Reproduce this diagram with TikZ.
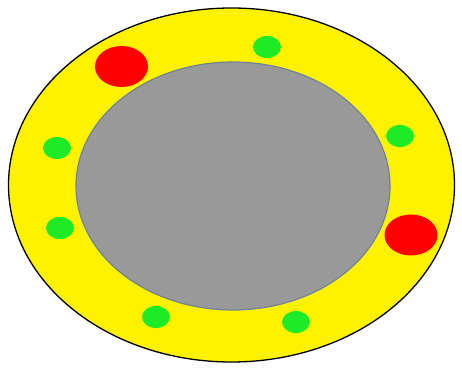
\documentclass[tikz,border=0pt]{standalone}
\usepackage{tikz}
\usetikzlibrary{shapes}

\definecolor{bordergray}{RGB}{112,130,150}
\definecolor{coregray}{RGB}{153,153,153}
\definecolor{spotgreen}{RGB}{30,235,40}

\begin{document}
\begin{tikzpicture}[x=1pt,y=1pt]
  
  \tikzset{ring/.style = {shape=ellipse,inner sep=0pt}}
  \tikzset{redspot/.style = {ring,fill=red,minimum width=53pt,minimum height=41pt}}
  \tikzset{greenspot/.style = {ring,fill=spotgreen,minimum width=28pt,minimum height=22pt}}
  \useasboundingbox (0,0) rectangle (462,369);
  % layers
  \node[ring,draw=black,line width=1.3pt,fill=yellow,minimum width=446pt,minimum height=354pt] (outer) at (231.5,184) {};
  \node[ring,draw=bordergray,line width=1.2pt,fill=coregray,minimum width=314pt,minimum height=248pt] (core) at (233,183) {};
  % spots
  \node[redspot] (r1) at (121.5,302.5) {};
  \node[redspot] (r2) at (411,134) {};
  \node[greenspot] (g1) at (267,322) {};
  \node[greenspot] (g2) at (400,233) {};
  \node[greenspot] (g3) at (57,221) {};
  \node[greenspot] (g4) at (60,141) {};
  \node[greenspot] (g5) at (156,52) {};
  \node[greenspot] (g6) at (296,47) {};
\end{tikzpicture}
\end{document}
